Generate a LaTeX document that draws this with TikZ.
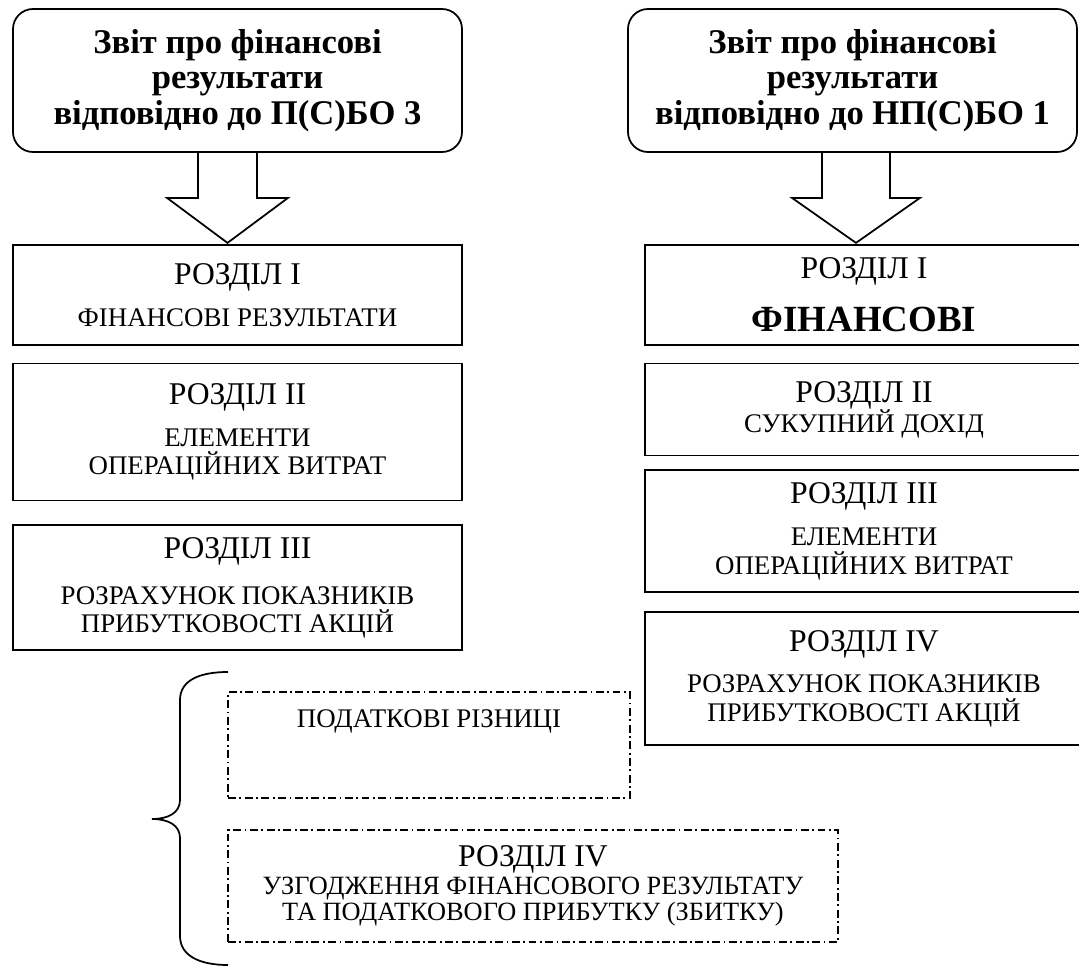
\documentclass[tikz,border=0pt]{standalone}
\usepackage{fontspec}
\setmainfont{Liberation Serif}
\usetikzlibrary{positioning}

\newcommand{\titlefont}{\fontsize{19.7}{20.2}\selectfont\bfseries}
\newcommand{\headfont}{\fontsize{18}{19}\selectfont}
\newcommand{\smallfont}{\fontsize{15.3}{16.2}\selectfont\lineskiplimit=-20pt}
\newcommand{\tightfont}{\fontsize{15}{15.2}\selectfont\lineskiplimit=-20pt}
\newcommand{\bigbold}{\fontsize{21}{24}\selectfont\bfseries}

\begin{document}
\begin{tikzpicture}[
    titlebox/.style={rectangle, draw, line width=1pt, rounded corners=0.4cm, align=center, minimum width=8.98cm, minimum height=2.86cm, font=\titlefont},
    secbox/.style={rectangle, draw, line width=1pt, align=center, font=\smallfont},
    leftsec/.style={secbox, minimum width=8.98cm},
    rightsec/.style={secbox, minimum width=8.76cm},
    taxbox/.style={rectangle, draw, line width=0.8pt, dash pattern=on 4.5pt off 2pt on 1pt off 2pt, align=center, font=\smallfont},
    bigarrow/.style={line width=1pt, line join=miter}
]
\path[use as bounding box, clip] (0,0) rectangle (21.58,-19.34);

% Report headers
\node[titlebox] (tl) at (4.75,-1.61) {Звіт про фінансові\\ результати\\ відповідно до П(С)БО 3};
\node[titlebox] (tr) at (17.05,-1.61) {Звіт про фінансові\\ результати\\ відповідно до НП(С)БО 1};

% Left column: P(S)BO 3
\node[leftsec, minimum height=2cm, below=1.82cm of tl] (l1) {{\headfont РОЗДІЛ I}\\[7.6pt] ФІНАНСОВІ РЕЗУЛЬТАТИ};
\node[leftsec, minimum height=2.74cm, below=0.34cm of l1] (l2) {{\headfont РОЗДІЛ II}\\[7.6pt] ЕЛЕМЕНТИ\\ ОПЕРАЦІЙНИХ ВИТРАТ};
\node[leftsec, minimum height=2.5cm, below=0.46cm of l2] (l3) {{\headfont РОЗДІЛ III}\\[10pt] РОЗРАХУНОК ПОКАЗНИКІВ\\ ПРИБУТКОВОСТІ АКЦІЙ};

% Right column: NP(S)BO 1
\node[rightsec, minimum height=2cm, below=1.82cm of tr, xshift=0.23cm] (r1) {{\headfont РОЗДІЛ I}\\[13.6pt] {\bigbold ФІНАНСОВІ}};
\node[rightsec, minimum height=1.84cm, below=0.34cm of r1] (r2) {{\headfont РОЗДІЛ II}\\[0.8pt] СУКУПНИЙ ДОХІД};
\node[rightsec, minimum height=2.44cm, below=0.26cm of r2] (r3) {{\headfont РОЗДІЛ III}\\[7.6pt] ЕЛЕМЕНТИ\\ ОПЕРАЦІЙНИХ ВИТРАТ};
\node[rightsec, minimum height=2.66cm, below=0.36cm of r3] (r4) {{\headfont РОЗДІЛ IV}\\[7.6pt] РОЗРАХУНОК ПОКАЗНИКІВ\\ ПРИБУТКОВОСТІ АКЦІЙ};

% Block arrows
\draw[bigarrow] ([xshift=-0.79cm]tl.south) -- ++(0,-0.9) -- ++(-0.62,0) -- ++(1.21,-0.9) -- ++(1.21,0.9) -- ++(-0.62,0) -- ++(0,0.9);
\draw[bigarrow] ([xshift=-0.61cm]tr.south) -- ++(0,-0.9) -- ++(-0.6,0) -- ++(1.28,-0.9) -- ++(1.28,0.9) -- ++(-0.6,0) -- ++(0,0.9);

% Tax differences (dash-dot)
\node[taxbox, minimum width=8.04cm, minimum height=2.12cm] (d1) at (8.58,-14.9) {};
\node[font=\smallfont, inner sep=0pt, below=0.36cm of d1.north] (d1text) {ПОДАТКОВІ РІЗНИЦІ};
\node[taxbox, font=\tightfont, minimum width=12.2cm, minimum height=2.24cm] (d2) at (10.66,-17.72) {{\headfont РОЗДІЛ IV}\\[0.6pt] УЗГОДЖЕННЯ ФІНАНСОВОГО РЕЗУЛЬТАТУ\\ ТА ПОДАТКОВОГО ПРИБУТКУ (ЗБИТКУ)};

% Brace
\draw[line width=1pt] (4.56,-13.44) .. controls (4.0,-13.44) and (3.6,-13.6) .. (3.6,-14.0) -- (3.6,-16.0)
    .. controls (3.6,-16.26) and (3.36,-16.38) .. (3.04,-16.38)
    .. controls (3.36,-16.38) and (3.6,-16.5) .. (3.6,-16.76) -- (3.6,-18.72)
    .. controls (3.6,-19.12) and (4.0,-19.3) .. (4.56,-19.3);

\end{tikzpicture}
\end{document}
